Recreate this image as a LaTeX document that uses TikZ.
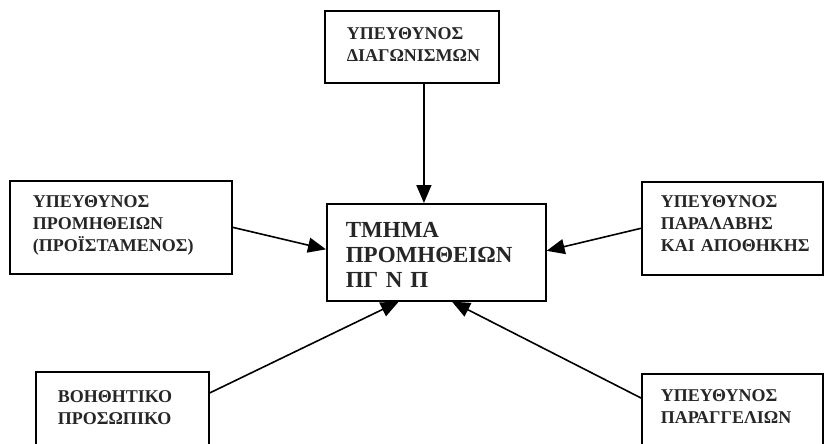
\documentclass[tikz,border=0pt]{standalone}
\usepackage{fontspec}
\setmainfont{Liberation Serif}
\usetikzlibrary{arrows.meta,calc}
\tikzset{
  box/.style={draw, line width=1.6pt, rectangle, anchor=north west, inner ysep=0pt,
    align=left, text=black!85, font=\fontsize{18}{22}\selectfont\bfseries},
  bigbox/.style={box, font=\fontsize{23}{25}\selectfont\bfseries},
  arr/.style={line width=1.6pt, -{Triangle[length=18pt,width=15pt]}}
}
\begin{document}
\begin{tikzpicture}[x=1pt,y=-1pt]
\useasboundingbox (0,0) rectangle (824,444);
\clip (0,0) rectangle (824,444);
\fill[white] (0,0) rectangle (824,444);
\node[box, inner xsep=22pt, text width=130pt, text height=29pt, text depth=43pt] (top) at (324,10) {ΥΠΕΥΘΥΝΟΣ\\ΔΙΑΓΩΝΙΣΜΩΝ};
\node[box, inner xsep=23pt, text width=176pt, text height=27pt, text depth=66pt] (left) at (9,180) {ΥΠΕΥΘΥΝΟΣ\\ΠΡΟΜΗΘΕΙΩΝ\\(ΠΡΟΪΣΤΑΜΕΝΟΣ)};
\node[box, inner xsep=19pt, text width=143pt, text height=26pt, text depth=67pt] (right) at (641,181) {ΥΠΕΥΘΥΝΟΣ\\ΠΑΡΑΛΑΒΗΣ\\ΚΑΙ~ΑΠΟΘΗΚΗΣ};
\node[bigbox, inner xsep=19pt, text width=181pt, text height=34pt, text depth=63pt] (centre) at (326,203) {ΤΜΗΜΑ\\ΠΡΟΜΗΘΕΙΩΝ\\ΠΓ Ν Π};
\node[box, inner xsep=22pt, text width=129pt, text height=31pt, text depth=80pt] (bl) at (35,371) {ΒΟΗΘΗΤΙΚΟ\\ΠΡΟΣΩΠΙΚΟ};
\node[box, inner xsep=19pt, text width=143pt, text height=28pt, text depth=80pt] (br) at (641,373) {ΥΠΕΥΘΥΝΟΣ\\ΠΑΡΑΓΓΕΛΙΩΝ};
\coordinate (ta) at ($(top.south west)!0.569!(top.south east)$);
\draw[arr] (ta) -- (ta |- centre.north);
\draw[arr] (left.east) -- ($(centre.north west)!0.47!(centre.south west)$);
\draw[arr] (right.west) -- ($(centre.north east)!0.485!(centre.south east)$);
\draw[arr] ([yshift=-22pt]bl.north east) -- ($(centre.south west)!0.33!(centre.south east)$);
\draw[arr] ([yshift=-25pt]br.north west) -- ($(centre.south west)!0.571!(centre.south east)$);
\end{tikzpicture}
\end{document}
